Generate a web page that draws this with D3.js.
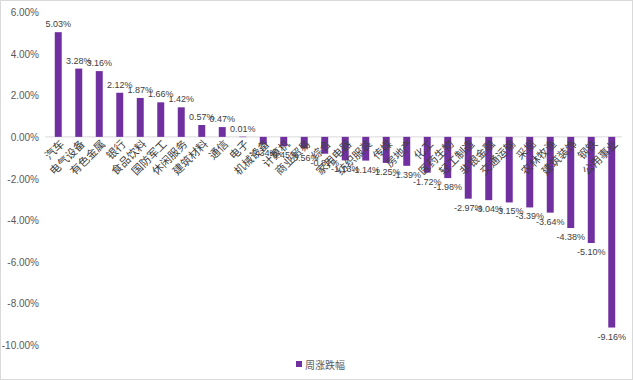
<!DOCTYPE html>
<meta charset="utf-8">
<body style="margin:0">
<script src="https://d3js.org/d3.v7.min.js"></script>
<style>
  body { font-family: "Noto Sans CJK SC", sans-serif; background: #fff; }
  .tick text { fill: #595959; font-size: 10px; font-family: "Liberation Sans", Arial, sans-serif; }
</style>
<script>
// industries, sorted by weekly change
var industries = ["汽车", "电气设备", "有色金属", "银行", "食品饮料", "国防军工", "休闲服务", "建筑材料",
  "通信", "电子", "机械设备", "计算机", "商业贸易", "综合", "家用电器", "纺织服装", "传媒", "房地产",
  "化工", "医药生物", "轻工制造", "非银金融", "交通运输", "采掘", "农林牧渔", "建筑装饰", "钢铁", "公用事业"];

// weekly change, percent
var weeklyChange = [5.03, 3.28, 3.16, 2.12, 1.87, 1.66, 1.42, 0.57, 0.47, 0.01,
  -0.34, -0.45, -0.56, -0.81, -1.13, -1.14, -1.25, -1.39, -1.72, -1.98,
  -2.97, -3.04, -3.15, -3.39, -3.64, -4.38, -5.10, -9.16];

var yTicks = [6, 4, 2, 0, -2, -4, -6, -8, -10];
var seriesName = "周涨跌幅";

var width = 633, height = 380;
var purple = "#7030a0";

// plain hyphen instead of d3's unicode minus
var pct = function(v) { return v.toFixed(2) + "%"; };

var data = industries.map(function(d, i) { return {name: d, value: weeklyChange[i]}; });

var svg = d3.select("body").append("svg")
    .attr("width", width)
    .attr("height", height);

// outer frame
svg.append("rect")
    .attr("x", 0.5).attr("y", 0.5)
    .attr("width", width - 1).attr("height", height - 1)
    .attr("fill", "#fff")
    .attr("stroke", "#d9d9d9");

var x = d3.scaleBand()
    .domain(industries)
    .range([48, 622])
    .paddingInner(0.66)
    .paddingOuter(0.33);

var y = d3.scaleLinear()
    .domain([-10, 6])
    .range([345, 12]);

// y axis labels only
var yAxis = d3.axisLeft(y)
    .tickValues(yTicks)
    .tickSize(0)
    .tickPadding(0)
    .tickFormat(pct);

svg.append("g")
    .attr("transform", "translate(39,0)")
    .call(yAxis)
    .call(function(g) { g.select(".domain").remove(); })
    .selectAll("text")
    .attr("dy", "0.35em");

// zero line
svg.append("line")
    .attr("x1", 45).attr("x2", 622)
    .attr("y1", y(0)).attr("y2", y(0))
    .attr("stroke", "#d9d9d9")
    .attr("stroke-width", 1);

// bars
svg.selectAll(".bar")
    .data(data)
    .enter().append("rect")
    .attr("class", "bar")
    .attr("x", function(d) { return x(d.name); })
    .attr("width", x.bandwidth())
    .attr("y", function(d) { return y(Math.max(0, d.value)); })
    .attr("height", function(d) { return Math.max(0.5, Math.abs(y(d.value) - y(0))); })
    .attr("fill", purple);

// value labels
svg.selectAll(".val")
    .data(data)
    .enter().append("text")
    .attr("class", "val")
    .attr("x", function(d) { return x(d.name) + x.bandwidth() / 2; })
    .attr("y", function(d) { return d.value >= 0 ? y(d.value) - 5 : y(d.value) + 12; })
    .attr("text-anchor", "middle")
    .attr("font-family", "Liberation Sans, Arial, sans-serif")
    .attr("font-size", "9px")
    .attr("fill", "#404040")
    .text(function(d) { return pct(d.value); });

// category labels, rotated
svg.selectAll(".cat")
    .data(data)
    .enter().append("text")
    .attr("class", "cat")
    .attr("transform", function(d) {
      var cx = x(d.name) + x.bandwidth() / 2 + 4;
      return "translate(" + cx + "," + (y(0) + 5) + ") rotate(-45)";
    })
    .attr("text-anchor", "end")
    .attr("dy", "0.35em")
    .attr("font-size", "11px")
    .attr("fill", "#404040")
    .text(function(d) { return d.name; });

// legend
var legend = svg.append("g").attr("transform", "translate(296,365)");
legend.append("rect")
    .attr("x", 0).attr("y", -4)
    .attr("width", 6).attr("height", 6)
    .attr("fill", purple);
legend.append("text")
    .attr("x", 9).attr("y", 0)
    .attr("dy", "0.35em")
    .attr("font-size", "10px")
    .attr("fill", "#595959")
    .text(seriesName);
</script>
